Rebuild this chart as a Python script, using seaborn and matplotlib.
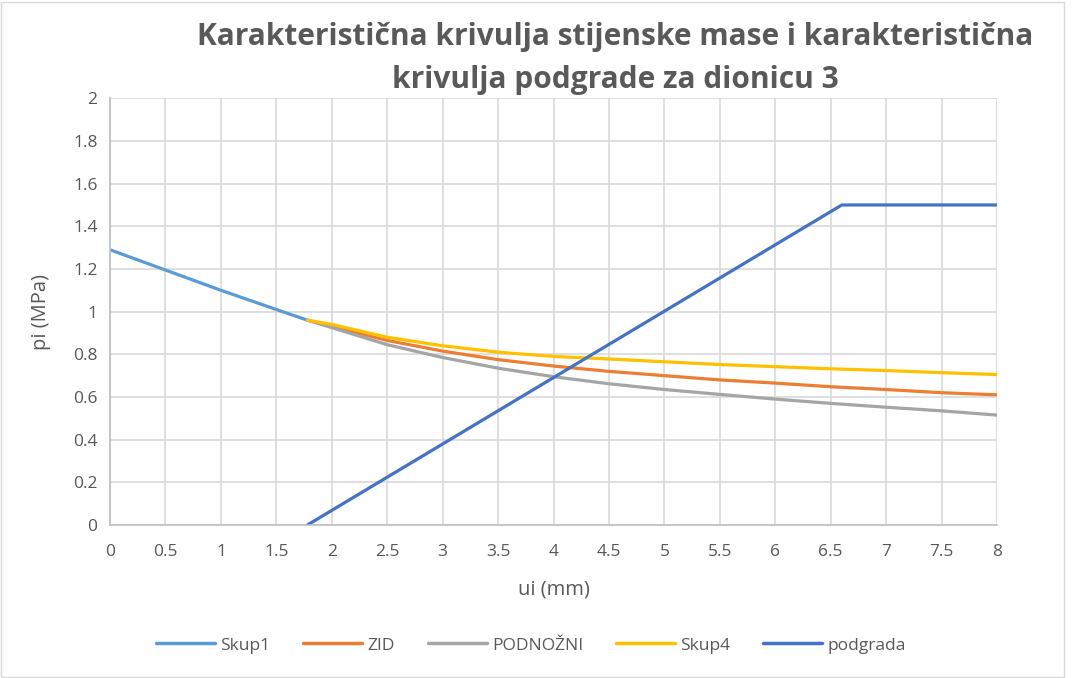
import numpy as np
import pandas as pd
import seaborn as sns
import matplotlib
matplotlib.use("Agg")
from matplotlib import pyplot as plt
from matplotlib.patches import Rectangle
from matplotlib.lines import Line2D

## Podaci (ocitano sa slike)
ui_skup1 = [0, 0.5, 1.0, 1.5, 1.78]
pi_skup1 = [1.29, 1.195, 1.10, 1.01, 0.96]

ui_zona = [1.78, 2.0, 2.5, 3.0, 3.5, 4.0, 4.5, 5.0, 5.5, 6.0, 6.5, 7.0, 7.5, 8.0]
pi_zid = [0.96, 0.93, 0.865, 0.815, 0.775, 0.745, 0.72, 0.70, 0.68, 0.665, 0.648, 0.635, 0.62, 0.61]
pi_podnozni = [0.96, 0.925, 0.845, 0.785, 0.735, 0.695, 0.662, 0.635, 0.612, 0.59, 0.57, 0.552, 0.535, 0.515]
pi_skup4 = [0.96, 0.94, 0.88, 0.84, 0.81, 0.79, 0.778, 0.765, 0.752, 0.742, 0.732, 0.724, 0.714, 0.705]

ui_podgrada = [1.78, 6.6, 8.0]
pi_podgrada = [0.0, 1.5, 1.5]

nazivi = ["Skup1", "ZID", "PODNOŽNI", "Skup4", "podgrada"]
boje = ["#5B9BD5", "#ED7D31", "#A5A5A5", "#FFC000", "#4472C4"]

sns.set_theme(style="white")
plt.rcParams['font.family'] = ['Open Sans', 'DejaVu Sans']

fig = plt.figure(figsize=(10.79, 6.78), dpi=100)
ax = fig.add_axes([0.102, 0.2257, 0.822, 0.6293])

serije = [(ui_skup1, pi_skup1), (ui_zona, pi_zid), (ui_zona, pi_podnozni),
          (ui_zona, pi_skup4), (ui_podgrada, pi_podgrada)]
for (x, y), naziv, boja in zip(serije, nazivi, boje):
    sns.lineplot(x=x, y=y, ax=ax, color=boja, linewidth=2.3, sort=False, label=naziv)

ax.set_xlim(0, 8)
ax.set_ylim(0, 2)
ax.set_xticks(np.arange(0, 8.01, 0.5))
ax.set_yticks(np.arange(0, 2.01, 0.2))
ax.set_xticklabels([f"{v:g}" for v in np.arange(0, 8.01, 0.5)])
ax.set_yticklabels([f"{v:.1f}".rstrip('0').rstrip('.') if v != 0 else "0" for v in np.arange(0, 2.01, 0.2)])
ax.grid(True, color="#d9d9d9", linewidth=1.2)
ax.set_axisbelow(True)
for s in ["top", "right"]:
    ax.spines[s].set_visible(False)
for s in ["left", "bottom"]:
    ax.spines[s].set_color("#bfbfbf")
    ax.spines[s].set_linewidth(1.2)
ax.tick_params(axis="x", colors="#595959", labelsize=12.5, length=0, pad=14)
ax.tick_params(axis="y", colors="#595959", labelsize=12.5, length=0, pad=9)
ax.set_xlabel("ui (mm)", fontsize=14.5, color="#595959", labelpad=14)
ax.set_ylabel("pi (MPa)", fontsize=14.5, color="#595959", labelpad=16)

ax.get_legend().remove()
handles = [Line2D([0], [0], color=b, linewidth=2.5) for b in boje]
fig.legend(handles, nazivi, loc="center", bbox_to_anchor=(0.492, 0.048), ncol=5,
           frameon=False, fontsize=12.5, labelcolor="#595959", handlelength=3.4,
           handletextpad=0.3, columnspacing=1.9)

fig.text(0.57, 0.945, "Karakteristična krivulja stijenske mase i karakteristična",
         ha="center", va="center", fontsize=21.5, fontweight="bold", color="#595959")
fig.text(0.57, 0.882, "krivulja podgrade za dionicu 3",
         ha="center", va="center", fontsize=21.5, fontweight="bold", color="#595959")

fig.patches.append(Rectangle((0.001, 0.002), 0.985, 0.995, transform=fig.transFigure,
                             fill=False, edgecolor="#d9d9d9", linewidth=1))

fig.savefig("out.png", dpi=100)
